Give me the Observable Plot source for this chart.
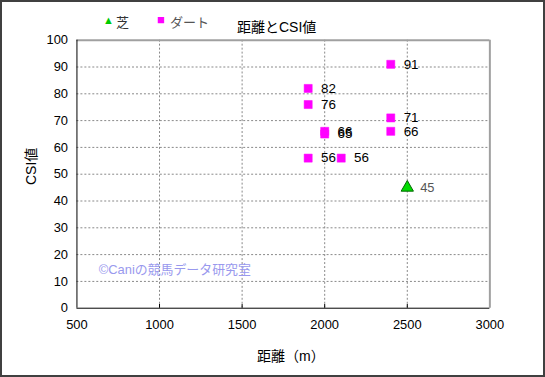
<!DOCTYPE html>
<html><head><meta charset="utf-8">
<script src="https://cdn.jsdelivr.net/npm/d3@7"></script>
<script src="https://cdn.jsdelivr.net/npm/@observablehq/plot@0.6"></script>
<style>
body{margin:0;background:#fff;}
#wrap{position:relative;width:545px;height:377px;box-sizing:border-box;border:2px solid #404040;overflow:hidden;font-family:"Liberation Sans","Noto Sans CJK JP",sans-serif;}
#wrap svg{position:absolute;left:-2px;top:-2px;}
.ov{position:absolute;font-size:13px;color:#000;white-space:nowrap;}
</style></head><body>
<div id="wrap"></div>
<script>
const title = "距離とCSI値";
const xLabel = "距離（m）";
const yLabel = "CSI値";
const watermark = "©Caniの競馬データ研究室";
const seriesNames = ["芝", "ダート"];
const turfDist = [2500];
const turfCSI = [45];
const dirtDist = [1900, 1900, 2000, 2000, 1900, 2100, 2400, 2400, 2400];
const dirtCSI = [82, 76, 66, 65, 56, 56, 91, 71, 66];
const xTicks = [500, 1000, 1500, 2000, 2500, 3000];
const yTicks = [0, 10, 20, 30, 40, 50, 60, 70, 80, 90, 100];

const turf = turfDist.map((d, i) => ({x: d, y: turfCSI[i]}));
const dirt = dirtDist.map((d, i) => ({x: d, y: dirtCSI[i]}));

const W = 545, H = 377;
const font = "Liberation Sans, Noto Sans CJK JP, sans-serif";
const chart = Plot.plot({
  width: W, height: H,
  marginLeft: 77, marginRight: 52, marginTop: 40, marginBottom: 67,
  style: {fontFamily: font, fontSize: "13px", background: "transparent", color: "#000"},
  x: {domain: [500, 3000], label: null},
  y: {domain: [0, 100], label: null},
  marks: [
    Plot.gridX(xTicks.slice(1, -1), {stroke: "#888", strokeOpacity: 1, strokeDasharray: "2,2"}),
    Plot.gridY(yTicks.slice(1, -1), {stroke: "#888", strokeOpacity: 1, strokeDasharray: "2,2"}),
    Plot.ruleX(xTicks.slice(1, -1), {x: d => d, y1: 0, y2: 1.4, stroke: "#000"}),
    Plot.axisX({ticks: xTicks, tickSize: 0, tickPadding: 12, fontSize: 13, tickFormat: d => String(d)}),
    Plot.axisY({ticks: yTicks, tickSize: 0, tickPadding: 9, fontSize: 13, tickFormat: d => String(d)}),
    Plot.ruleY([100], {stroke: "#a0a0a0", strokeWidth: 2}),
    Plot.ruleX([3000], {stroke: "#a0a0a0", strokeWidth: 2}),
    Plot.ruleX([500], {stroke: "#000", strokeWidth: 1}),
    Plot.ruleY([0], {stroke: "#000", strokeWidth: 1}),
    Plot.text([watermark], {frameAnchor: "bottom-left", dx: 22, dy: -34, fill: "#9999ee", fontSize: 13, textAnchor: "start"}),
    Plot.dot(dirt, {x: "x", y: "y", symbol: "square", r: 4.6, fill: "#ff00ff", stroke: "#ff00ff", strokeWidth: 0.5}),
    Plot.dot(turf, {x: "x", y: "y", symbol: "triangle", r: 4.6, fill: "#00dd00", stroke: "#006600", strokeWidth: 1}),
    Plot.text(dirt, {x: "x", y: "y", text: d => String(d.y), dx: 13, textAnchor: "start", fill: "#000", fontSize: 13.5}),
    Plot.text(turf, {x: "x", y: "y", text: d => String(d.y), dx: 13, textAnchor: "start", fill: "#555", fontSize: 13})
  ]
});
const wrap = document.getElementById("wrap");
wrap.appendChild(chart);

function ov(text, left, top, extra) {
  const d = document.createElement("div");
  d.className = "ov";
  d.textContent = text;
  d.style.left = left + "px"; d.style.top = top + "px";
  if (extra) Object.assign(d.style, extra);
  wrap.appendChild(d);
  return d;
}
ov(title, 235, 14, {fontSize: "14px"});
ov("▲", 101, 12, {color: "#00cc00", fontSize: "11px"});
ov(seriesNames[0], 114, 10, {fontSize: "13px", color: "#333"});
ov("■", 155, 10, {color: "#ff00ff", fontSize: "13px"});
ov(seriesNames[1], 168, 10, {fontSize: "13px", color: "#555"});
ov(xLabel, 255, 343, {fontSize: "14px"});
const yl = ov(yLabel, 10, 150, {fontSize: "14px", transform: "rotate(-90deg)", transformOrigin: "left top"});
yl.style.left = "18px"; yl.style.top = "183px";
</script>
</body></html>
